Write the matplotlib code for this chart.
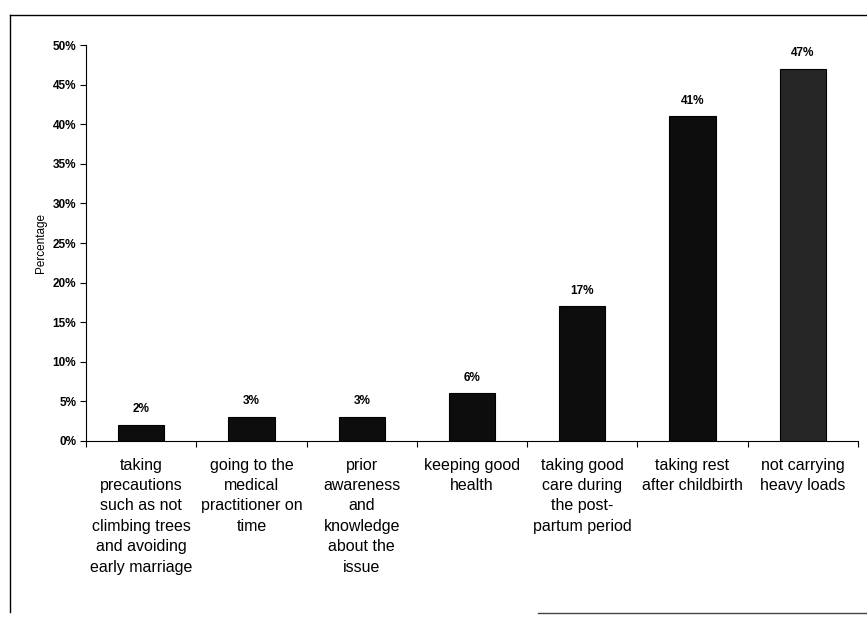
import matplotlib
matplotlib.use("Agg")
import matplotlib.pyplot as plt
from matplotlib.lines import Line2D
from matplotlib.ticker import FixedLocator, FuncFormatter

categories = [
    "taking\nprecautions\nsuch as not\nclimbing trees\nand avoiding\nearly marriage",
    "going to the\nmedical\npractitioner on\ntime",
    "prior\nawareness\nand\nknowledge\nabout the\nissue",
    "keeping good\nhealth",
    "taking good\ncare during\nthe post-\npartum period",
    "taking rest\nafter childbirth",
    "not carrying\nheavy loads",
]
percentages = [2, 3, 3, 6, 17, 41, 47]
y_ticks = [0, 5, 10, 15, 20, 25, 30, 35, 40, 45, 50]

plt.rcParams["font.family"] = ["Liberation Sans", "DejaVu Sans"]

fig = plt.figure(figsize=(8.67, 6.17), dpi=100)
fig.patch.set_facecolor("white")
ax = fig.add_axes([0.0992, 0.2853, 0.8904, 0.6417])

x = list(range(len(categories)))
bar_colors = ["#0d0d0d"] * (len(categories) - 1) + ["#262626"]
bars = ax.bar(x, percentages, width=0.42, color=bar_colors,
              edgecolor="#000000", linewidth=0.8, zorder=3)

for xi, v in zip(x, percentages):
    ax.annotate(f"{v:.0f}%", (xi, v), xytext=(0, 7), textcoords="offset points",
                ha="center", va="bottom", fontsize=8.5, fontweight="bold")

ax.set_xlim(-0.5, len(categories) - 0.5)
ax.set_ylim(0, 50)

ax.yaxis.set_major_locator(FixedLocator(y_ticks))
ax.yaxis.set_major_formatter(FuncFormatter(lambda v, p: f"{v:.0f}%"))
ax.tick_params(axis="y", direction="out", length=4, width=0.8, labelsize=8.5, pad=3)
for lbl in ax.get_yticklabels():
    lbl.set_fontweight("bold")

# category labels at bar centres, tick marks at category boundaries
ax.set_xticks(x)
ax.set_xticklabels(categories, fontsize=11.5, linespacing=1.45, va="top")
ax.tick_params(axis="x", which="major", length=0, pad=12)
ax.set_xticks([i - 0.5 for i in range(len(categories) + 1)], minor=True)
ax.tick_params(axis="x", which="minor", direction="out", length=4, width=0.8)

ax.set_ylabel("Percentage", fontsize=8.5, labelpad=4)

for side in ("top", "right"):
    ax.spines[side].set_visible(False)
for side in ("left", "bottom"):
    ax.spines[side].set_linewidth(0.8)

# outer frame of the figure
fig.add_artist(Line2D([0.011, 0.011], [0.008, 0.976], transform=fig.transFigure,
                      color="black", linewidth=1.0))
fig.add_artist(Line2D([0.011, 1.0], [0.976, 0.976], transform=fig.transFigure,
                      color="black", linewidth=1.0))
fig.add_artist(Line2D([0.62, 1.0], [0.006, 0.006], transform=fig.transFigure,
                      color="#444444", linewidth=1.0))

fig.savefig("out.png", dpi=100, facecolor="white")
